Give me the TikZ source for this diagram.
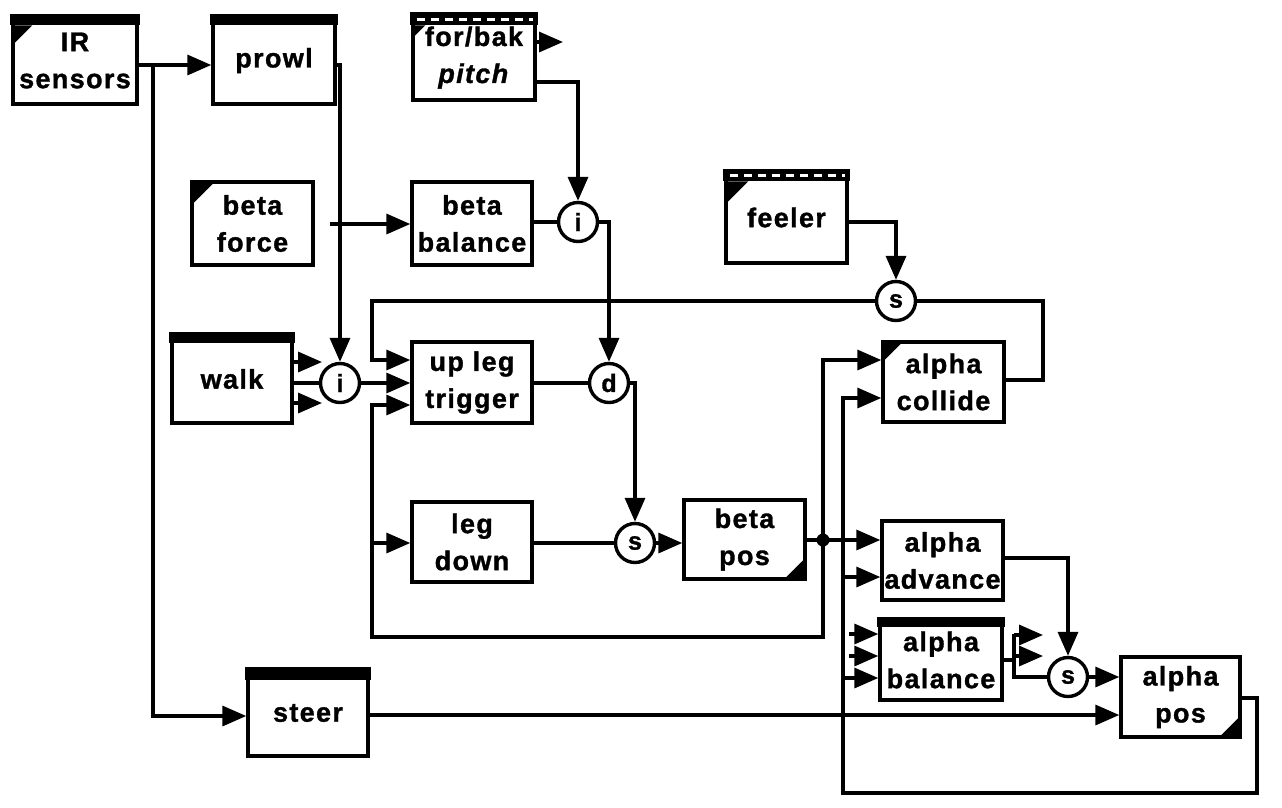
\documentclass[tikz,border=0pt]{standalone}
\usepackage{fontspec}
\setmainfont{Liberation Sans}[LetterSpace=5,BoldFeatures={FakeBold=1.2},BoldItalicFeatures={FakeBold=1.2}]
\usetikzlibrary{arrows.meta}
\newcommand\mybar[2]{\fill ([xshift=-1.7pt,yshift=1.7pt]#1.north west) rectangle ([xshift=1.7pt,yshift=-#2pt]#1.north east);}
\newcommand\myhatch[2]{\mybar{#1}{#2}\draw[white,line width=3pt,dash pattern=on 8pt off 6pt] ([xshift=6pt,yshift=-#2pt/2]#1.north west) -- ([xshift=-4pt,yshift=-#2pt/2]#1.north east);}
\newcommand\mytl[3]{\fill ([yshift=-#2pt]#1.north west) -- ([yshift=-#2pt-#3pt]#1.north west) -- ([xshift=#3pt,yshift=-#2pt]#1.north west) -- cycle;}
\newcommand\mybr[2]{\fill (#1.south east) -- ([yshift=#2pt]#1.south east) -- ([xshift=-#2pt]#1.south east) -- cycle;}
\begin{document}
\begin{tikzpicture}[x=1pt,y=-1pt,
  box/.style={draw, line width=3.4pt, rectangle, inner sep=0pt, align=center,
    font=\fontsize{27}{37}\selectfont\bfseries},
  junc/.style={draw, circle, line width=3.4pt, minimum size=39pt, inner sep=0pt,
    font=\fontsize{25}{25}\selectfont\bfseries},
  wire/.style={line width=3.4pt},
  arr/.style={wire, -{Triangle[length=24pt,width=20pt]}},
]
\useasboundingbox (0,0) rectangle (1282,807);

% boxes
\node[box, minimum width=124pt, minimum height=87pt] (irs) at (75,60.5) {IR\\sensors};
\node[box, minimum width=122pt, minimum height=87pt] (prowl) at (274,60.5) {prowl};
\node[box, minimum width=122pt, minimum height=85pt] (pitch) at (474,57.5) {for/bak\\\textit{pitch}};
\node[box, minimum width=121pt, minimum height=83pt] (bforce) at (252.5,223.5) {beta\\force};
\node[box, minimum width=120pt, minimum height=83pt] (bbal) at (472,223.5) {beta\\balance};
\node[box, minimum width=121pt, minimum height=91pt] (feeler) at (786.5,217.5) {feeler};
\node[box, minimum width=120pt, minimum height=88pt] (walk) at (232,379) {walk};
\node[box, minimum width=120pt, minimum height=81pt] (trig) at (472,382.5) {up leg\\trigger};
\node[box, minimum width=120pt, minimum height=80pt] (legdown) at (472,542) {leg\\down};
\node[box, minimum width=121pt, minimum height=79pt] (bpos) at (744.5,539.5) {beta\\pos};
\node[box, minimum width=121pt, minimum height=80pt] (acoll) at (943.5,382) {alpha\\collide};
\node[box, minimum width=121pt, minimum height=79pt] (aadv) at (942.5,560.5) {alpha\\advance};
\node[box, minimum width=122pt, minimum height=80pt] (abal) at (941,660) {alpha\\balance};
\node[box, minimum width=119pt, minimum height=80pt] (apos) at (1180.5,697) {alpha\\pos};
\node[box, minimum width=120pt, minimum height=86pt] (steer) at (308,713) {steer};

% junction circles
\node[junc] (ci1) at (578,222) {i};
\node[junc] (ci2) at (340,383) {i};
\node[junc] (cs1) at (896,301) {s};
\node[junc] (cd) at (609,383) {d};
\node[junc] (cs2) at (635,543) {s};
\node[junc] (cs3) at (1068,677) {s};

% box decorations
\mybar{irs}{10}\mytl{irs}{10}{21}
\mybar{prowl}{10}
\myhatch{pitch}{12}\mytl{pitch}{12}{14}
\mytl{bforce}{0}{26}
\myhatch{feeler}{11}\mytl{feeler}{11}{24}
\mybar{walk}{10}
\mybr{bpos}{24}
\mytl{acoll}{0}{23}
\mybar{abal}{9}
\mybr{apos}{24}
\mybar{steer}{12}

% free ends and junction points
\coordinate (jir) at (153,65);
\coordinate (bfout) at (330,224);
\coordinate (pout) at (563,42);
\coordinate (w1) at (322,362);
\coordinate (w2) at (322,403);
\coordinate (jb) at (823,540);
\coordinate (jl) at (372,543);
\coordinate (s1) at (849,634);
\coordinate (s2) at (849,656);
\coordinate (o1) at (1043,635);
\coordinate (o2) at (1043,656);

% connectors
\draw[arr] (irs.east|-0,65) -- (prowl.west|-0,65);
\draw[arr] (jir) |- (steer.west|-0,716);
\draw[arr] (prowl.east|-0,65) -| (ci2.north);
\draw[arr] (bfout) -- (bbal.west|-0,224);
\draw[arr] (pitch.east|-0,42) -- (pout);
\draw[arr] (pitch.east|-0,82) -| (ci1.north);
\draw[wire] (bbal.east|-0,222) -- (ci1.west);
\draw[arr] (ci1.east) -| (cd.north);
\draw[wire] (walk.east|-0,383) -- (ci2.west);
\draw[arr] (walk.east|-0,362) -- (w1);
\draw[arr] (walk.east|-0,403) -- (w2);
\draw[arr] (ci2.east) -- (trig.west|-0,383);
\draw[wire] (trig.east|-0,383) -- (cd.west);
\draw[arr] (cd.east) -| (cs2.north);
\draw[wire] (legdown.east|-0,543) -- (cs2.west);
\draw[arr] (cs2.east) -- (bpos.west|-0,543);
\draw[arr] (feeler.east|-0,222) -| (cs1.north);
\draw[wire] (acoll.east|-0,380) -- (1043,380) |- (cs1.east);
\draw[arr] (cs1.west) -- (372,301) |- (trig.west|-0,360);
\draw[arr] (bpos.east|-0,540) -- (aadv.west|-0,540);
\fill (jb) circle (6.5);
\draw[arr] (jb) |- (acoll.west|-0,360);
\draw[arr] (jb) |- (372,637) |- (trig.west|-0,405);
\draw[arr] (jl) -- (legdown.west|-0,543);
\draw[arr] (apos.east|-0,698) -- (1257,698) |- (843,793) |- (acoll.west|-0,398);
\draw[arr] (843,577) -- (aadv.west|-0,577);
\draw[arr] (843,678) -- (abal.west|-0,678);
\draw[arr] (s1) -- (abal.west|-0,634);
\draw[arr] (s2) -- (abal.west|-0,656);
\draw[arr] (aadv.east|-0,558) -| (cs3.north);
\draw[wire] (abal.east|-0,660) -- (1014,660);
\draw[wire] (1014,634) |- (cs3.west);
\draw[arr] (1014,635) -- (o1);
\draw[arr] (1014,656) -- (o2);
\draw[arr] (cs3.east) -- (apos.west|-0,677);
\draw[arr] (steer.east|-0,715) -- (apos.west|-0,715);
\end{tikzpicture}
\end{document}
